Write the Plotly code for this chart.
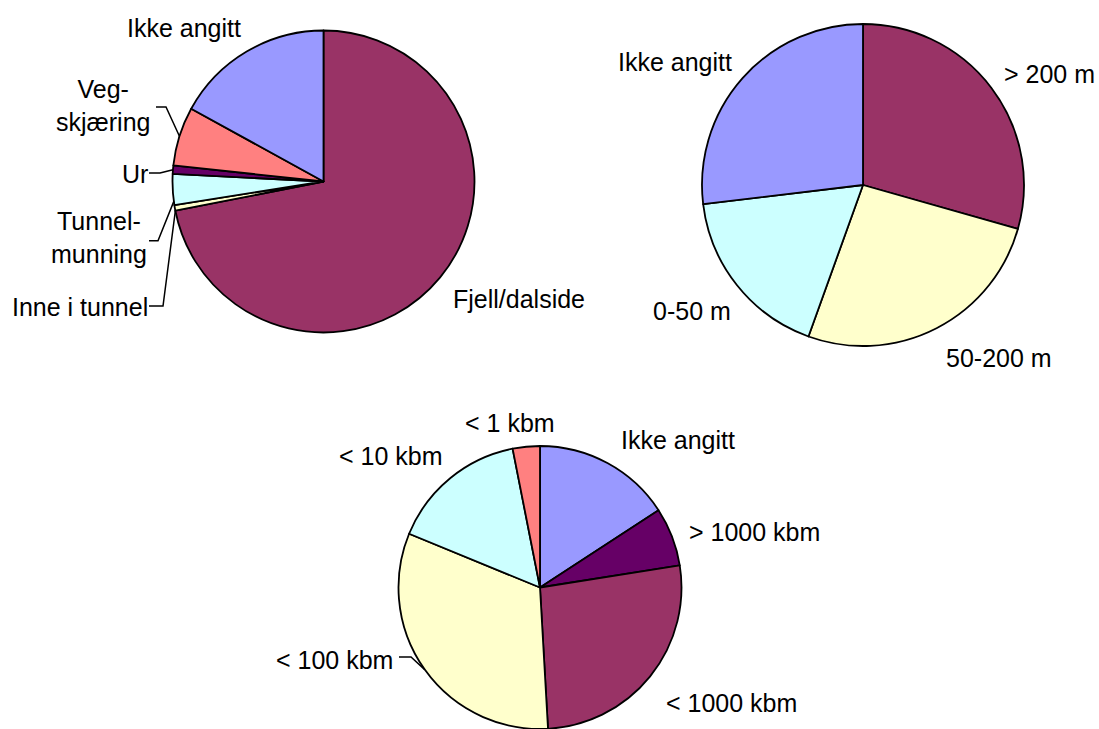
import math
import plotly.graph_objects as go

W, H = 1099, 729

# Landslide location (share of events, %)
loc_labels = ["Fjell/dalside", "Inne i tunnel", "Tunnelmunning", "Ur", "Veg-skjæring", "Ikke angitt"]
loc_text = ["Fjell/dalside", "Inne i tunnel", "Tunnel-<br>munning", "Ur", "Veg-<br>skjæring", "Ikke angitt"]
loc_values = [71.9, 0.6, 3.3, 0.9, 6.3, 17.0]
loc_colors = ["#993366", "#FFFFCC", "#CCFFFF", "#660066", "#FF8080", "#9999FF"]

# Fall height (%)
height_labels = ["> 200 m", "50-200 m", "0-50 m", "Ikke angitt"]
height_values = [29.4, 26.1, 17.6, 26.9]
height_colors = ["#993366", "#FFFFCC", "#CCFFFF", "#9999FF"]

# Volume (%)
vol_labels = ["Ikke angitt", "> 1000 kbm", "< 1000 kbm", "< 100 kbm", "< 10 kbm", "< 1 kbm"]
vol_values = [15.8, 6.7, 26.6, 32.1, 15.7, 3.1]
vol_colors = ["#9999FF", "#660066", "#993366", "#FFFFCC", "#CCFFFF", "#FF8080"]

FONT = dict(family="Liberation Sans, Arial, sans-serif", size=25, color="black")

# Pie placement in pixels: centre x, centre y, radius
pies = [
    dict(labels=loc_labels, values=loc_values, colors=loc_colors, cx=323.5, cy=181.5, r=151),
    dict(labels=height_labels, values=height_values, colors=height_colors, cx=863, cy=185, r=161),
    dict(labels=vol_labels, values=vol_values, colors=vol_colors, cx=540, cy=587.5, r=141.5),
]


def px(x, y):
    return x / W, 1 - y / H


fig = go.Figure()
for p in pies:
    x0, y1 = px(p["cx"] - p["r"], p["cy"] - p["r"])
    x1, y0 = px(p["cx"] + p["r"], p["cy"] + p["r"])
    fig.add_trace(go.Pie(
        labels=p["labels"], values=p["values"],
        marker=dict(colors=p["colors"], line=dict(color="black", width=1.8)),
        sort=False, direction="clockwise", rotation=0,
        textinfo="none", hoverinfo="label+percent",
        domain=dict(x=[max(0, x0), min(1, x1)], y=[max(0, y0), min(1, y1)]),
    ))


def edge_point(p, idx, frac):
    total = sum(p["values"])
    start = sum(p["values"][:idx]) / total * 360
    span = p["values"][idx] / total * 360
    a = math.radians(start + frac * span)
    return p["cx"] + p["r"] * math.sin(a), p["cy"] - p["r"] * math.cos(a)


# Label text positions (pixel centres)
label_pos = [
    [(519, 299), (79.7, 307), (99, 238), (134.5, 174), (103, 105), (183.5, 28)],
    [(1049, 73.7), (999, 358), (692, 311), (674.7, 62)],
    [(678, 439.5), (754, 532), (731, 703), (334, 659.5), (390.5, 456), (509.7, 423.3)],
]
texts = [loc_text, height_labels, vol_labels]

for pi, (pos, txt) in enumerate(zip(label_pos, texts)):
    for (lx, ly), t in zip(pos, txt):
        ax, ay = px(lx, ly)
        fig.add_annotation(x=ax, y=ay, xref="paper", yref="paper", text=t,
                           showarrow=False, xanchor="center", yanchor="middle",
                           font=FONT, align="center")

# Leader lines: (pie index, slice index, start, elbow, position within slice)
leaders = [
    (0, 4, (156, 107), (166, 107), 0.5),
    (0, 3, (149, 173), (160, 173), 0.5),
    (0, 2, (149, 240.7), (158, 240.7), 0.12),
    (0, 1, (149, 306), (163, 306), 0.0),
    (2, 3, (399, 657), (411, 657), 0.5),
]
for pi, si, s, e, f in leaders:
    ex, ey = edge_point(pies[pi], si, f)
    pts = [px(*s), px(*e), px(ex, ey)]
    path = "M {:.5f},{:.5f} L {:.5f},{:.5f} L {:.5f},{:.5f}".format(
        pts[0][0], pts[0][1], pts[1][0], pts[1][1], pts[2][0], pts[2][1])
    fig.add_shape(type="path", path=path, xref="paper", yref="paper",
                  line=dict(color="black", width=1.5))

fig.update_layout(
    width=W, height=H, margin=dict(l=0, r=0, t=0, b=0),
    paper_bgcolor="white", plot_bgcolor="white", showlegend=False,
)

fig.write_html("out.html")
